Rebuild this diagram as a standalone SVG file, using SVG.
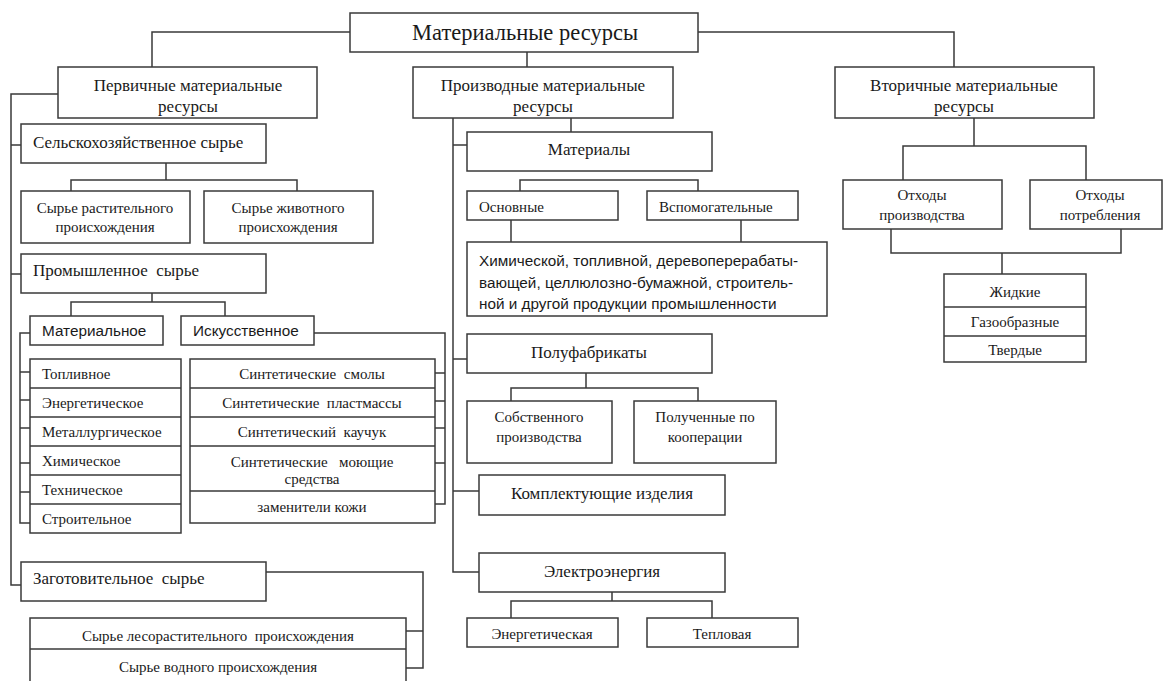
<svg xmlns="http://www.w3.org/2000/svg" width="1163" height="681" viewBox="0 0 1163 681">
<style>
rect{fill:#fff;stroke:#3a3a3a;stroke-width:1.5}
.ln{fill:none;stroke:#3a3a3a;stroke-width:1.5}
text{font-family:"Liberation Serif","DejaVu Serif",serif;font-size:15px;fill:#1a1a1a}
.c{text-anchor:middle}
.big{font-size:22.5px}
.m{font-size:17px}
.s{font-family:"Liberation Sans","DejaVu Sans",sans-serif;font-size:15.3px}
.sm{font-size:15px}
</style>
<rect width="1163" height="681" style="fill:#fff;stroke:none"/>
<g id="connectors">
<path class="ln" d="M350,32H152V67M698,32H954V67M527,52V67"/>
<path class="ln" d="M58,94H11V585H21M11,145H21M11,274H21"/>
<path class="ln" d="M166,163V180M71,191V180H297V191"/>
<path class="ln" d="M152,293V302M71,316V302H225V316"/>
<path class="ln" d="M30,333H20V523H30M20,372H30M20,400H30M20,428H30M20,463H30M20,492H30"/>
<path class="ln" d="M314,333H445V504H435M445,373H435M445,401H435M445,428H435M445,463H435"/>
<path class="ln" d="M266,572H423V668H406M423,631H406"/>
<path class="ln" d="M453,118V572H479M453,145H467M453,359H467M453,491H479M571,118V132"/>
<path class="ln" d="M520,191V180H698V191M511,220V242M741,220V242"/>
<path class="ln" d="M586,373V388M511,401V388H698V401"/>
<path class="ln" d="M612,592V601M511,618V601H712V618"/>
<path class="ln" d="M974,118V146M903,180V146H1086V180M891,229V253H1121V229M1002,253V274"/>
</g>
<g id="n-root"><rect x="350" y="13" width="348" height="39"/><text class="c big" x="525" y="40">Материальные ресурсы</text></g>
<g id="n-perv"><rect x="58" y="67" width="259" height="51"/><text class="c m" x="188" y="91">Первичные материальные</text><text class="c m" x="188" y="112">ресурсы</text></g>
<g id="n-proizv"><rect x="413" y="67" width="260" height="51"/><text class="c m" x="543" y="91">Производные материальные</text><text class="c m" x="543" y="112">ресурсы</text></g>
<g id="n-vtor"><rect x="835" y="67" width="259" height="51"/><text class="c m" x="964" y="91">Вторичные материальные</text><text class="c m" x="964" y="112">ресурсы</text></g>
<g id="n-selsk"><rect x="21" y="124" width="245" height="39"/><text class="m" x="33" y="148">Сельскохозяйственное сырье</text></g>
<g id="n-rast"><rect x="21" y="191" width="169" height="52"/><text class="c" x="105" y="213">Сырье растительного</text><text class="c" x="105" y="232">происхождения</text></g>
<g id="n-zhiv"><rect x="204" y="191" width="169" height="52"/><text class="c" x="288" y="213">Сырье животного</text><text class="c" x="288" y="232">происхождения</text></g>
<g id="n-prom"><rect x="21" y="254" width="245" height="39"/><text class="m" x="33" y="276" xml:space="preserve">Промышленное  сырье</text></g>
<g id="n-materialnoe"><rect x="30" y="316" width="133" height="29"/><text class="s" x="42" y="336">Материальное</text></g>
<g id="n-iskus"><rect x="181" y="316" width="133" height="29"/><text class="s" x="193" y="336">Искусственное</text></g>
<g id="n-matlist"><rect x="30" y="359" width="151" height="174"/>
<path class="ln" d="M30,388H181M30,417H181M30,446H181M30,475H181M30,504H181"/>
<text class="sm" x="42" y="379">Топливное</text><text class="sm" x="42" y="408">Энергетическое</text><text class="sm" x="42" y="437">Металлургическое</text><text class="sm" x="42" y="466">Химическое</text><text class="sm" x="42" y="495">Техническое</text><text class="sm" x="42" y="524">Строительное</text></g>
<g id="n-synlist"><rect x="190" y="359" width="245" height="164"/>
<path class="ln" d="M190,388H435M190,417H435M190,446H435M190,491H435"/>
<text class="c sm" x="312" y="379" xml:space="preserve">Синтетические  смолы</text><text class="c sm" x="312" y="408" xml:space="preserve">Синтетические  пластмассы</text><text class="c sm" x="312" y="437" xml:space="preserve">Синтетический  каучук</text><text class="c sm" x="312" y="467" xml:space="preserve">Синтетические   моющие</text><text class="c sm" x="312" y="484">средства</text><text class="c sm" x="312" y="512">заменители кожи</text></g>
<g id="n-zagot"><rect x="21" y="562" width="245" height="39"/><text class="m" x="33" y="584" xml:space="preserve">Заготовительное  сырье</text></g>
<g id="n-zaglist"><rect x="30" y="618" width="376" height="75"/>
<path class="ln" d="M30,649H406"/>
<text class="c sm" x="218" y="641" xml:space="preserve">Сырье лесорастительного  происхождения</text><text class="c sm" x="218" y="672">Сырье водного происхождения</text></g>
<g id="n-materialy"><rect x="467" y="132" width="245" height="39"/><text class="c m" x="589" y="155">Материалы</text></g>
<g id="n-osn"><rect x="467" y="191" width="151" height="29"/><text class="sm" x="479" y="212">Основные</text></g>
<g id="n-vspom"><rect x="647" y="191" width="151" height="29"/><text class="sm" x="659" y="212">Вспомогательные</text></g>
<g id="n-prod"><rect x="467" y="242" width="360" height="74"/>
<text class="s" x="479" y="266">Химической, топливной,  деревоперерабаты-</text><text class="s" x="479" y="288">вающей, целлюлозно-бумажной, строитель-</text><text class="s" x="479" y="309">ной и другой продукции промышленности</text></g>
<g id="n-polufab"><rect x="467" y="334" width="245" height="39"/><text class="c m" x="589" y="358">Полуфабрикаты</text></g>
<g id="n-sobstv"><rect x="467" y="401" width="145" height="62"/><text class="c" x="539" y="422">Собственного</text><text class="c" x="539" y="442">производства</text></g>
<g id="n-koop"><rect x="634" y="401" width="142" height="62"/><text class="c" x="705" y="422">Полученные по</text><text class="c" x="705" y="442">кооперации</text></g>
<g id="n-komplekt"><rect x="479" y="475" width="246" height="40"/><text class="c m" x="602" y="499">Комплектующие изделия</text></g>
<g id="n-elektro"><rect x="479" y="553" width="246" height="39"/><text class="c m" x="602" y="577">Электроэнергия</text></g>
<g id="n-energ"><rect x="467" y="618" width="151" height="29"/><text class="c sm" x="542" y="639">Энергетическая</text></g>
<g id="n-teplo"><rect x="647" y="618" width="151" height="29"/><text class="c sm" x="722" y="639">Тепловая</text></g>
<g id="n-othpr"><rect x="843" y="180" width="159" height="49"/><text class="c" x="922" y="200">Отходы</text><text class="c" x="922" y="220">производства</text></g>
<g id="n-othpot"><rect x="1030" y="180" width="132" height="49"/><text class="c" x="1100" y="200">Отходы</text><text class="c" x="1100" y="220">потребления</text></g>
<g id="n-stack"><rect x="944" y="274" width="142" height="88"/>
<path class="ln" d="M944,307H1086M944,336H1086"/>
<text class="c sm" x="1015" y="297">Жидкие</text><text class="c sm" x="1015" y="327">Газообразные</text><text class="c sm" x="1015" y="355">Твердые</text></g>
</svg>
